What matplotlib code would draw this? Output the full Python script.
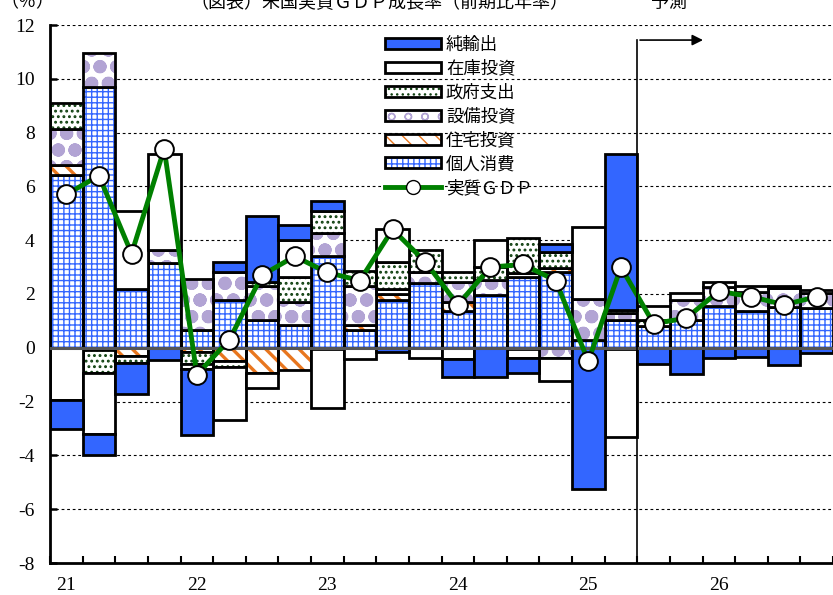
import matplotlib
matplotlib.use("Agg")
import matplotlib.pyplot as plt
from matplotlib.patches import Patch
from matplotlib.lines import Line2D
import numpy as np

plt.rcParams['font.family'] = ['Liberation Serif', 'Noto Sans CJK JP']
plt.rcParams['axes.unicode_minus'] = False

# quarters 2021Q1 .. 2026Q4
year_labels = ['21', '22', '23', '24', '25', '26']
pce   = [6.43, 9.70, 2.19, 3.16, 0.67, 1.78, 1.04, 0.85, 3.42, 0.67, 1.78, 2.40,
         1.35, 1.96, 2.63, 2.80, 0.30, 1.03, 0.80, 1.03, 1.56, 1.38, 1.53, 1.47]
res   = [0.37, -0.10, -0.30, 0.00, -0.15, -0.50, -0.93, -0.82, -0.05, 0.19, 0.21, 0.00,
         0.37, 0.00, -0.05, 0.16, 0.00, -0.05, 0.00, 0.00, 0.00, 0.00, 0.00, 0.00]
equip = [1.34, 1.26, 0.00, 0.46, 1.90, 1.04, 1.24, 0.84, 0.85, 1.45, 0.20, 0.43,
         0.74, 0.56, 0.15, -0.37, 1.52, 0.27, 0.00, 0.74, 0.71, 0.71, 0.68, 0.56]
gov   = [0.97, -0.85, -0.25, 0.00, -0.45, -0.20, 0.15, 0.93, 0.82, 0.53, 1.00, 0.81,
         0.37, 0.50, 1.30, 0.60, 0.00, 0.10, 0.25, 0.00, 0.00, 0.00, 0.00, 0.00]
inv   = [-1.93, -2.25, 2.90, 3.59, -0.20, -1.97, -0.55, 1.39, -2.18, -0.40, 1.22, -0.38,
         -0.40, 1.00, -0.33, -0.85, 2.67, -3.28, 0.50, 0.27, 0.19, 0.19, 0.08, 0.12]
nx    = [-1.10, -0.80, -1.18, -0.45, -2.45, 0.37, 2.47, 0.56, 0.35, 0.00, -0.15, 0.00,
         -0.70, -1.07, -0.55, 0.30, -5.25, 5.80, -0.60, -0.99, -0.38, -0.33, -0.64, -0.20]
gdp   = [5.7, 6.4, 3.5, 7.4, -1.0, 0.3, 2.7, 3.4, 2.8, 2.5, 4.4, 3.2,
         1.6, 3.0, 3.1, 2.5, -0.5, 3.0, 0.9, 1.1, 2.1, 1.9, 1.6, 1.9]

BLUE = '#3366ff'
# name, values, colour, hatch, hatch linewidth
series = [
    ('個人消費', pce, BLUE, '+++', 1.0),
    ('住宅投資', res, '#e8761e', '\\\\', 2.4),
    ('設備投資', equip, '#b2a4d4', 'o', 4.8),
    ('政府支出', gov, '#0f400f', '...', 1.3),
    ('在庫投資', inv, 'white', None, 0),
    ('純輸出', nx, BLUE, None, 0),
]


def set_hlw(patches, hlw):
    for p in patches:
        try:
            p.set_hatch_linewidth(hlw)
        except AttributeError:
            pass


x = np.arange(len(pce))
fig = plt.figure(figsize=(8.33, 5.95), dpi=100)
ax = fig.add_axes([50 / 833, 32 / 595, 783 / 833, 538 / 595])

pos_base = np.zeros(len(x))
neg_base = np.zeros(len(x))
for name, vals, color, hatch, hlw in series:
    v = np.array(vals)
    bottom = np.where(v >= 0, pos_base, neg_base)
    keep = v != 0
    if hatch is None:
        ax.bar(x[keep], v[keep], bottom=bottom[keep], width=1.0, color=color,
               edgecolor='black', linewidth=2, zorder=2)
    else:
        with plt.rc_context({'hatch.linewidth': hlw}):
            bars = ax.bar(x[keep], v[keep], bottom=bottom[keep], width=1.0, color='white',
                          edgecolor=color, hatch=hatch, linewidth=0, zorder=2)
        set_hlw(bars, hlw)
        ax.bar(x[keep], v[keep], bottom=bottom[keep], width=1.0, fill=False,
               edgecolor='black', linewidth=2, zorder=2)
    pos_base = pos_base + np.where(v > 0, v, 0)
    neg_base = neg_base + np.where(v < 0, v, 0)

ax.axhline(0, color='#555555', linewidth=2.2, zorder=3)
ax.plot(x, gdp, color='#008000', linewidth=3.5, marker='o', markersize=13.5,
        markerfacecolor='white', markeredgecolor='black', markeredgewidth=1.4, zorder=4)

ax.set_xlim(-0.5, 23.15)
ax.set_ylim(-8, 12)
ax.set_yticks(np.arange(-8, 13, 2))
for yy in range(-6, 13, 2):
    if yy != 0:
        ax.axhline(yy, color='black', linewidth=0.8, linestyle=(0, (2.5, 2.5)), zorder=1)

ax.set_xticks(np.arange(0, 24, 4))
ax.set_xticklabels(year_labels)
ax.set_xticks(np.arange(-0.5, 24, 1), minor=True)
ax.tick_params(axis='x', which='major', length=0, pad=10, labelsize=14)
ax.tick_params(axis='x', which='minor', direction='in', length=5, width=1.5)
ax.tick_params(axis='y', direction='in', length=5, width=1.8, pad=11, labelsize=14)
for s in ['top', 'right']:
    ax.spines[s].set_visible(False)
for s in ['left', 'bottom']:
    ax.spines[s].set_linewidth(2)

# forecast marker
ax.plot([17.5, 17.5], [-8, 11.44], color='black', linewidth=1.2, zorder=5, clip_on=False)
ax.annotate('', xy=(19.6, 11.44), xytext=(17.5, 11.44),
            arrowprops=dict(arrowstyle='-|>', color='black', lw=1.2, mutation_scale=16))

# legend (top to bottom)
handles = []
labels = []
for name, vals, color, hatch, hlw in reversed(series):
    if hatch is None:
        handles.append(Patch(facecolor=color, edgecolor='black', linewidth=2))
    else:
        with plt.rc_context({'hatch.linewidth': hlw}):
            hp = Patch(facecolor='white', edgecolor=color, hatch=hatch, linewidth=0)
        set_hlw([hp], hlw)
        handles.append((hp, Patch(fill=False, edgecolor='black', linewidth=2)))
    labels.append(name)
handles.append(Line2D([], [], color='#008000', linewidth=3.5, marker='o', markersize=10,
                      markerfacecolor='white', markeredgecolor='black'))
labels.append('実質ＧＤＰ')
ax.legend(handles, labels, loc='upper left', bbox_to_anchor=(323 / 783, 1.0),
          frameon=False, fontsize=12.5, handlelength=3.2, handleheight=0.6,
          handletextpad=0.3, labelspacing=0.42, borderaxespad=0.3)

fig.text(0.0, 1 - 3 / 595, '（％）', fontsize=13, va='center', ha='left')
fig.text(190 / 833, 1 - 3 / 595, '（図表）米国実質ＧＤＰ成長率（前期比年率）', fontsize=13,
         va='center', ha='left')
fig.text(669 / 833, 1 - 3 / 595, '予測', fontsize=13, va='center', ha='center')

fig.savefig('out.png', dpi=100)
